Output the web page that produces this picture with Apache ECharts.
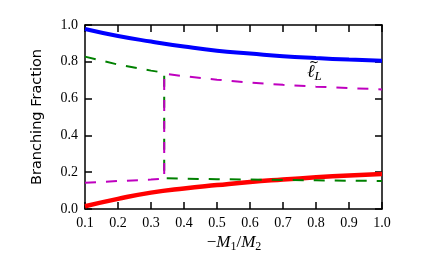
<!DOCTYPE html>
<html><head><meta charset="utf-8">
<script src="https://cdn.jsdelivr.net/npm/echarts@6/dist/echarts.min.js"></script>
<style>html,body{margin:0;padding:0;background:#fff}#c{width:425px;height:263px}</style>
</head><body><div id="c"></div>
<script>
const xTicks = [0.1,0.2,0.3,0.4,0.5,0.6,0.7,0.8,0.9,1.0];
const xFull = [0.1,0.2,0.3,0.4,0.5,0.6,0.7,0.8,0.9,1.0];
const blueVals = [0.978,0.94,0.91,0.883,0.86,0.845,0.83,0.82,0.812,0.806];
const redVals = [0.015,0.055,0.089,0.112,0.13,0.147,0.16,0.172,0.182,0.19];
const xBefore = [0.1,0.2,0.3,0.34];
const xAfter = [0.34,0.4,0.5,0.6,0.7,0.8,0.9,1.0];
const greenBefore = [0.828,0.785,0.752,0.741];
const greenAfter = [0.167,0.165,0.162,0.16,0.158,0.156,0.154,0.152];
const magentaBefore = [0.143,0.152,0.16,0.165];
const magentaAfter = [0.735,0.722,0.703,0.687,0.675,0.665,0.657,0.65];

const pair = (xs, ys) => xs.map((x,i)=>[x, ys[i]]);
const chart = echarts.init(document.getElementById('c'), null, {renderer:'canvas'});
const serif = 'Liberation Serif';
function ax(extra){
  return Object.assign({
    type:'value', min:0.1, max:1.0, interval:0.1,
    axisLine:{show:true, onZero:false, lineStyle:{color:'#000', width:1.5}},
    axisTick:{show:true, inside:true, length:7, lineStyle:{color:'#000', width:1.5}},
    splitLine:{show:false}
  }, extra);
}
chart.setOption({
  animation:false,
  grid:{left:85, top:25, right:43, bottom:54},
  xAxis:[
    ax({position:'bottom',
      axisLabel:{show:true, color:'#000', fontFamily:serif, fontSize:14, margin:7,
        formatter:v=>v.toFixed(1)}}),
    ax({position:'top', axisLabel:{show:false}})
  ],
  yAxis:[
    ax({min:0, max:1.0, interval:0.2, position:'left',
      axisLabel:{show:true, color:'#000', fontFamily:serif, fontSize:14, margin:7,
        formatter:v=>v.toFixed(1)}}),
    ax({min:0, max:1.0, interval:0.2, position:'right', axisLabel:{show:false}})
  ],
  series:[
    {type:'line', xAxisIndex:0, yAxisIndex:0, data:pair(xFull, blueVals), smooth:true, showSymbol:false,
      lineStyle:{color:'#0000ff', width:4}},
    {type:'line', xAxisIndex:0, yAxisIndex:0, data:pair(xFull, redVals), smooth:true, showSymbol:false,
      lineStyle:{color:'#ff0000', width:4.5}},
    {type:'line', xAxisIndex:1, yAxisIndex:1, data:pair(xBefore, greenBefore).concat(pair(xAfter, greenAfter)), showSymbol:false,
      lineStyle:{color:'#008000', width:2, type:[11,10]}},
    {type:'line', xAxisIndex:1, yAxisIndex:1, data:pair(xBefore, magentaBefore).concat(pair(xAfter, magentaAfter)), showSymbol:false,
      lineStyle:{color:'#bf00bf', width:2, type:[11,10]}}
  ],
  graphic:[
    {type:'text', x:37, y:117, rotation:Math.PI/2, z:100,
      style:{text:'Branching Fraction', fontFamily:'DejaVu Sans', fontSize:14.5, fill:'#000',
        textAlign:'center', textVerticalAlign:'middle'}},
    {type:'text', x:234, y:243, z:100,
      style:{text:'{n|−}{i|M}{s|1}{n|/}{i|M}{s|2}', textAlign:'center', textVerticalAlign:'middle',
        rich:{
          n:{fontFamily:serif, fontSize:17, fill:'#000'},
          i:{fontFamily:serif, fontStyle:'italic', fontSize:17, fill:'#000'},
          s:{fontFamily:serif, fontSize:12, fill:'#000', padding:[8,0,0,0]}
        }}},
    {type:'text', x:307, y:72, z:100,
      style:{text:'{i|ℓ}{s|L}', textAlign:'left', textVerticalAlign:'middle',
        rich:{
          i:{fontFamily:serif, fontStyle:'italic', fontSize:18, fill:'#000'},
          s:{fontFamily:serif, fontStyle:'italic', fontSize:13, fill:'#000', padding:[9,0,0,0]}
        }}},
    {type:'text', x:309, y:63, z:100,
      style:{text:'~', fontFamily:'DejaVu Serif', fontSize:12, fill:'#000', textAlign:'left', textVerticalAlign:'middle'}}
  ]
});
</script></body></html>
